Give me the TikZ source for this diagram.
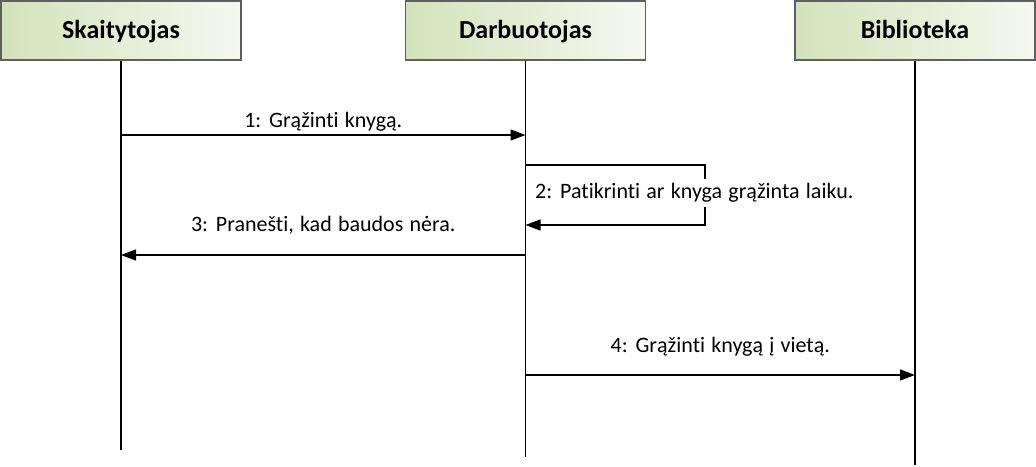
\documentclass[tikz,border=0pt]{standalone}
\usepackage{fontspec}
\setmainfont[Ligatures=NoCommon, WordSpace=1.25]{Carlito}
\usetikzlibrary{positioning, arrows.meta}
\definecolor{objl}{RGB}{212,226,185}
\definecolor{objr}{RGB}{246,248,240}
\definecolor{objb}{RGB}{95,95,95}

\begin{document}
\begin{tikzpicture}[x=1pt, y=-1pt,
       obj/.style={rectangle, draw=objb, line width=1.2pt, minimum width=240pt,
         minimum height=59pt, left color=objl, right color=objr,
         text height=19pt, text depth=4pt,
         font=\fontsize{26}{29}\selectfont\bfseries},
       life/.style={line width=1.3pt},
       msg/.style={-{Triangle[length=15pt, width=11pt]}, line width=1.3pt},
       lbl/.style={font=\fontsize{22}{24}\selectfont,
         inner sep=1pt, text height=15pt, text depth=5pt}]
     \useasboundingbox (0,0) rectangle (1036,466);
     \node[obj] (s) at (121,30.5) {Skaitytojas};
     \node[obj] (d) at (525.5,30.5) {Darbuotojas};
     \node[obj] (b) at (915,30.5) {Biblioteka};
     \coordinate (s-end) at (121,450);
     \coordinate (d-end) at (525.5,457);
     \coordinate (b-end) at (915,465);
     \draw[life] (s) -- (s-end);
     \draw[life] (d) -- (d-end);
     \draw[life] (b) -- (b-end);
     % messages
     \coordinate (s1) at (121,135);
     \coordinate (d1) at (525.5,135);
     \coordinate (d2) at (525.5,165);
     \coordinate (d2r) at (705,165);
     \coordinate (d3r) at (705,225);
     \coordinate (d3) at (525.5,225);
     \coordinate (d4) at (525.5,255);
     \coordinate (s4) at (121,255);
     \coordinate (d5) at (525.5,375);
     \coordinate (b5) at (915,375);
     \draw[msg] (s1) -- node[lbl, above=1pt] {1: Grąžinti knygą.} (d1);
     \draw[msg] (d2) -- (d2r) -- (d3r) -- (d3);
     \node[lbl, fill=white, inner ysep=4pt, anchor=base west] (l2) at (534,198) {2: Patikrinti ar knyga grąžinta laiku.};
     \draw[msg] (d4) -- node[lbl, above=17pt] {3: Pranešti, kad baudos nėra.} (s4);
     \draw[msg] (d5) -- node[lbl, above=16pt] {4: Grąžinti knygą į vietą.} (b5);
   \end{tikzpicture}
\end{document}
